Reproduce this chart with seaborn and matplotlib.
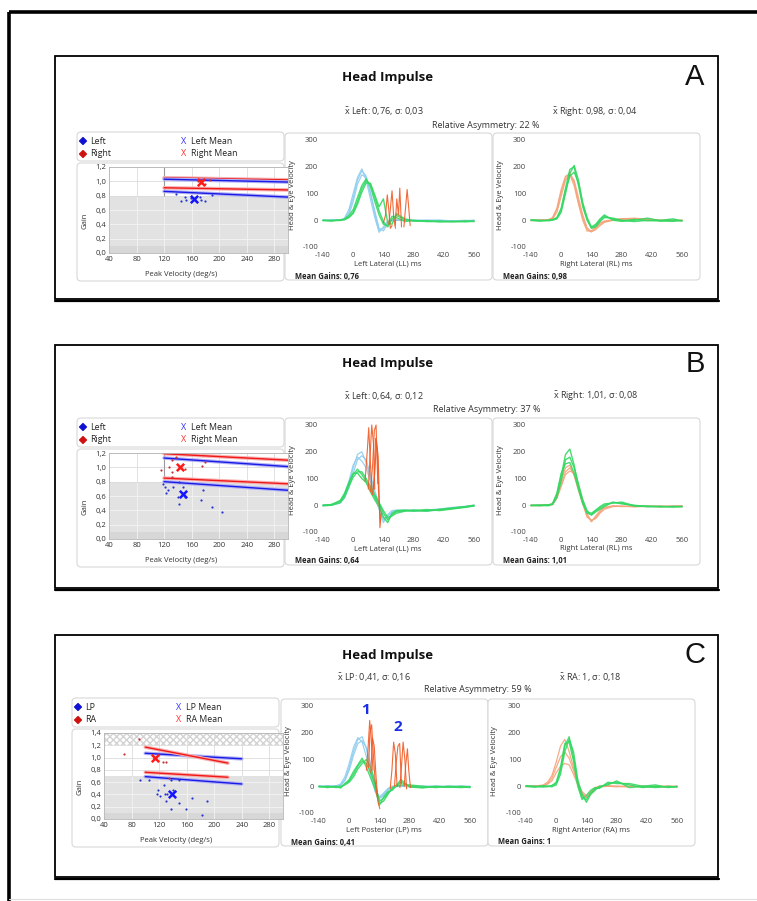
import numpy as np
import pandas as pd
import seaborn as sns
import matplotlib.pyplot as plt
import matplotlib.patheffects as pe
from matplotlib.patches import Rectangle, FancyBboxPatch

W, H = 757, 901

# ---------------- data ----------------
# common time grid (ms) of the impulse traces
T = [-140, -100, -60, -40, -20, 0, 20, 40, 60, 80, 100, 120, 140, 160, 180, 200, 240, 280, 340, 400, 460, 520, 560]

# panel A, left lateral
a_left_head = [
    [0, 0, 2, 5, 30, 85, 150, 185, 165, 100, 25, -38, -30, -8, 0, 0, 0, 0, -2, 0, -3, -2, 0],
    [0, 1, 0, 3, 20, 70, 135, 170, 160, 105, 35, -30, -40, -12, -2, 0, 1, 0, 0, -2, -3, 0, -2],
    [0, 0, 1, 8, 40, 100, 160, 192, 150, 80, 10, -45, -25, -3, 0, 1, 0, -2, 0, 0, -2, -3, 0],
]
a_left_eye = [
    [0, -2, 0, 3, 12, 30, 70, 118, 148, 135, 85, 35, -5, -25, 5, 18, 2, -3, -2, -5, -4, -6, -3],
    [-2, 0, -1, 5, 18, 40, 85, 130, 155, 125, 70, 20, -15, -20, 15, 10, -5, 0, -5, -3, -6, -4, -5],
    [0, -3, 2, 2, 10, 25, 60, 105, 140, 138, 95, 50, 80, -10, -15, 25, 5, -2, -4, -6, -5, -3, -4],
]
a_left_sacc = [
    ([140, 150, 158, 165, 172, 180], [-10, 20, 95, 40, -30, -20]),
    ([165, 172, 180, 188, 196], [-15, 40, 110, 10, -30]),
    ([195, 202, 210, 216, 224], [-20, 80, 20, 120, -25]),
    ([235, 242, 250, 256, 264], [-25, 40, 115, 60, -20]),
]
# panel A, right lateral
a_right_head = [
    [0, 0, 2, 8, 40, 105, 160, 178, 140, 70, 10, -35, -44, -30, -15, -5, 0, 5, 8, 3, 0, -2, 0],
    [0, 1, 0, 5, 30, 90, 150, 172, 150, 85, 20, -28, -42, -35, -20, -8, 0, 3, 6, 5, 0, 0, -2],
    [-2, 0, 1, 10, 45, 115, 165, 170, 130, 60, 0, -40, -40, -25, -10, -3, 2, 6, 4, 2, -2, 0, 0],
]
a_right_eye = [
    [0, -3, 0, 2, 10, 45, 120, 190, 200, 130, 50, 0, -28, -20, 0, 15, 5, -2, 3, -2, 0, 5, -3],
    [2, 0, -2, 0, 5, 30, 100, 175, 205, 150, 60, 5, -30, -25, -5, 10, 8, 0, -5, 0, -3, 0, -2],
    [0, -2, 0, 3, 8, 40, 110, 165, 180, 140, 65, 10, -25, -15, 5, 20, 0, -4, 0, 8, -2, -4, 0],
]

# panel B, left lateral
b_left_head = [
    [0, 2, 10, 35, 80, 140, 190, 200, 160, 100, 40, -5, -55, -40, -25, -20, -18, -20, -20, -15, -10, -5, 0],
    [-2, 0, 8, 28, 65, 120, 170, 185, 170, 115, 55, 5, -45, -50, -30, -22, -20, -18, -22, -18, -12, -6, -2],
    [0, 3, 12, 40, 90, 150, 180, 165, 140, 90, 30, -15, -65, -35, -20, -18, -20, -22, -18, -14, -8, -4, 0],
]
b_left_eye = [
    [0, 2, 15, 40, 80, 115, 135, 115, 90, 60, 30, 5, -30, -55, -35, -25, -20, -22, -20, -18, -12, -6, -2],
    [-2, 0, 10, 30, 70, 105, 125, 125, 100, 70, 40, 10, -20, -45, -40, -30, -22, -18, -22, -15, -10, -5, 0],
    [0, 3, 18, 45, 85, 120, 120, 100, 85, 50, 20, -5, -45, -65, -30, -20, -18, -20, -16, -20, -14, -8, -3],
]
b_left_sacc = [
    ([55, 65, 72, 80, 88], [90, 200, 290, 150, 40]),
    ([70, 78, 86, 94, 100], [60, 180, 300, 230, 60]),
    ([80, 90, 98, 106, 114], [50, 150, 280, 300, 80]),
    ([90, 100, 108, 116, 124, 130], [40, 120, 240, 180, -84, -30]),
    ([95, 104, 112, 118, 126], [60, 250, 200, 40, -60]),
]
# panel B, right lateral
b_right_head = [
    [0, -2, 0, 3, 30, 80, 125, 140, 115, 65, 10, -40, -60, -45, -25, -10, -3, -5, -3, -5, -4, -5, -3],
    [-2, 0, 2, 6, 40, 95, 140, 150, 110, 55, 5, -45, -55, -50, -30, -15, -5, -3, -5, -3, -6, -2, -4],
    [0, 0, 1, 2, 25, 70, 115, 128, 120, 75, 20, -30, -62, -40, -20, -8, -2, -4, -6, -4, -3, -5, -2],
]
b_right_eye = [
    [0, -2, 0, 5, 40, 110, 190, 210, 150, 70, 10, -30, -35, -20, -10, 0, 10, 8, -3, -5, -4, -6, -5],
    [-2, 0, 2, 3, 30, 90, 170, 180, 140, 80, 20, -20, -37, -25, -15, -5, 12, 5, 0, -5, -6, -4, -6],
    [0, 1, -2, 6, 45, 120, 155, 160, 120, 60, 5, -25, -30, -18, -5, 5, 8, 12, -2, -3, -5, -6, -4],
]

# panel C, left posterior
c_left_head = [
    [0, 0, 0, 5, 25, 70, 130, 175, 185, 140, 60, -10, -45, -30, -10, 0, 0, -2, 0, 0, -2, 0, 0],
    [-2, 0, 2, 8, 35, 85, 145, 182, 165, 110, 40, -20, -40, -25, -8, 0, 2, 0, -2, 0, 0, -2, -1],
    [0, 1, 0, 3, 20, 60, 115, 160, 170, 145, 80, 0, -46, -35, -15, -3, 0, 0, 0, -2, 0, 0, -2],
]
c_left_eye = [
    [0, -5, 0, -5, 10, 20, 45, 75, 95, 85, 50, 5, -55, -45, -25, -10, 15, 0, -5, 0, -3, -5, -2],
    [-3, 0, -5, 0, 5, 15, 35, 65, 85, 100, 70, 15, -65, -55, -30, -5, 5, 5, 0, -5, 0, -2, -5],
    [0, -3, -2, -6, 8, 25, 55, 80, 105, 70, 30, -10, -71, -40, -20, -15, 25, -3, -6, -2, -4, 0, -3],
]
c_left_sacc = [
    ([80, 88, 95, 102, 110], [60, 150, 246, 180, 60]),
    ([90, 96, 104, 112, 120, 130], [70, 200, 230, 120, 20, -40]),
    ([100, 108, 116, 124, 134, 142], [50, 180, 150, 40, -60, -84]),
    ([190, 198, 206, 214, 222], [-10, 60, 165, 120, 0]),
    ([210, 218, 226, 234, 242], [0, 90, 150, 160, 10]),
    ([235, 242, 250, 258, 266], [-5, 70, 165, 100, -10]),
    ([255, 262, 270, 276, 284], [0, 80, 140, 60, -5]),
]
# panel C, right anterior
c_right_head = [
    [0, 0, 2, 10, 30, 70, 110, 128, 105, 60, 10, -30, -40, -25, -8, 0, 0, -2, 0, -2, 0, 0, -2],
    [-2, 0, 5, 15, 40, 90, 150, 175, 130, 70, 15, -25, -43, -30, -12, -3, 0, 0, -3, 0, -2, 0, 0],
    [0, 2, 0, 8, 20, 50, 75, 85, 80, 45, 5, -20, -35, -20, -5, 0, 2, 0, 0, 0, -3, -2, 0],
]
c_right_eye = [
    [0, -3, 0, -2, 3, 10, 60, 150, 185, 110, 10, -40, -50, -25, -10, -5, 10, 15, 5, -5, 0, -3, -2],
    [2, 0, -3, 0, -2, 5, 45, 130, 175, 130, 25, -30, -60, -30, -15, 0, 5, 20, -5, 0, 5, -5, 0],
    [0, -2, 2, 0, 2, 15, 70, 160, 165, 95, 0, -50, -35, -15, -5, -8, 15, 10, 10, 0, -5, 0, -3],
]

# gain vs peak velocity: (velocity, gain)
a_gain_left = ([138, 145, 151, 152, 159, 172, 174, 179, 190], [0.82, 0.72, 0.78, 0.74, 0.77, 0.78, 0.74, 0.73, 0.81])
a_gain_right = ([169, 179, 187], [1.01, 0.96, 1.02])
a_mean_left, a_mean_right = (163, 0.76), (174, 0.99)
a_lines = [([120, 300], [1.05, 1.02], 'red'), ([120, 300], [1.03, 0.99], 'blue'),
           ([120, 300], [0.91, 0.88], 'red'), ([120, 300], [0.86, 0.78], 'blue')]

b_gain_left = ([118, 122, 123, 126, 133, 140, 141, 142, 147, 151, 174, 177, 190, 204],
               [0.77, 0.73, 0.64, 0.68, 0.72, 0.59, 0.49, 0.79, 0.72, 0.59, 0.55, 0.69, 0.45, 0.38])
b_gain_right = ([116, 132, 132, 138, 127, 131, 150, 175, 180],
                [0.96, 1.10, 0.94, 1.14, 1.00, 0.86, 0.97, 1.02, 1.08])
b_mean_left, b_mean_right = (147, 0.63), (143, 1.01)
b_lines = [([120, 300], [1.19, 1.10], 'red'), ([120, 300], [1.13, 1.01], 'blue'),
           ([120, 300], [0.85, 0.77], 'red'), ([120, 300], [0.80, 0.68], 'blue')]

c_gain_left = ([92, 106, 117, 118, 122, 127, 128, 130, 132, 138, 138, 140, 143, 149, 149, 159, 168, 182, 189],
               [0.63, 0.63, 0.41, 0.47, 0.37, 0.56, 0.40, 0.30, 0.41, 0.64, 0.16, 0.47, 0.46, 0.26, 0.64, 0.16, 0.35, 0.07, 0.30])
c_gain_right = ([69, 91, 125, 130, 134, 112], [1.06, 1.31, 0.93, 0.92, 0.66, 1.00])
c_mean_left, c_mean_right = (139, 0.40), (114, 0.99)
c_lines = [([100, 240], [1.07, 0.98], 'blue'), ([100, 220], [1.17, 0.91], 'red'),
           ([100, 220], [0.76, 0.68], 'red'), ([100, 240], [0.69, 0.57], 'blue')]

# ---------------- style ----------------
sns.set_style('white')
plt.rcParams['font.family'] = ['Open Sans', 'DejaVu Sans']
plt.rcParams['mathtext.fontset'] = 'custom'
plt.rcParams['mathtext.rm'] = 'Open Sans'
plt.rcParams['axes.unicode_minus'] = False

HEAD_BLUE = '#8fcdef'
EYE_GREEN = '#33d862'
SACC_ORANGE = '#f05a24'
HEAD_ORANGE = '#f6a27a'
LINE_COL = {'red': ('#f01818', '#f7b0b0'), 'blue': ('#1a1ae6', '#b0b0f5')}

fig = plt.figure(figsize=(W / 100, H / 100), dpi=100)
bg = fig.add_axes([0, 0, 1, 1])
bg.set_xlim(0, W)
bg.set_ylim(H, 0)
bg.axis('off')


def px_axes(x0, y0, x1, y1):
    return fig.add_axes([x0 / W, 1 - y1 / H, (x1 - x0) / W, (y1 - y0) / H])


def comma(v):
    return f'{v:.1f}'.replace('.', ',')


def soft_box(x0, y0, w, h):
    bg.add_patch(FancyBboxPatch((x0, y0), w, h, boxstyle='round,pad=0,rounding_size=4',
                                fc='white', ec='#d8d8d8', lw=0.8))


def long_df(traces, t=T):
    rows = []
    for i, v in enumerate(traces):
        rows.append(pd.DataFrame({'t': t, 'v': v, 'unit': i}))
    return pd.concat(rows, ignore_index=True)


def sacc_df(segs):
    rows = []
    for i, (t, v) in enumerate(segs):
        rows.append(pd.DataFrame({'t': t, 'v': v, 'unit': i}))
    return pd.concat(rows, ignore_index=True)


def wave_chart(x0, y0, layers, xlabel, gain_txt):
    soft_box(x0, y0, 207, 147)
    ax = px_axes(x0 + 35.84, y0 + 5.66, x0 + 191.16, y0 + 116.14)
    ax.patch.set_alpha(0)
    for df, col, lw in layers:
        sns.lineplot(data=df, x='t', y='v', units='unit', estimator=None, color=col,
                     lw=lw, alpha=0.9, ax=ax, legend=False)
    ax.set_xlim(-150, 570)
    ax.set_ylim(-108, 305)
    ax.set_xticks([-140, 0, 140, 280, 420, 560])
    ax.set_yticks([-100, 0, 100, 200, 300])
    ax.tick_params(labelsize=5.5, length=0, pad=2, colors='#444444')
    ax.set_xlabel('')
    ax.set_ylabel('')
    sns.despine(ax=ax, left=True, bottom=True)
    bg.text(x0 + 7, y0 + 62, 'Head & Eye Velocity', rotation=90, ha='center', va='center',
            fontsize=5.5, color='#333333')
    bg.text(x0 + 103, y0 + 131, xlabel, ha='center', va='center', fontsize=5.5, color='#333333')
    bg.text(x0 + 10, y0 + 143, gain_txt, ha='left', va='center', fontsize=5.5,
            fontweight='bold', color='#222222')


def gain_chart(x0, y0, ymax, thr, pts_l, pts_r, mean_l, mean_r, lines, mark120):
    soft_box(x0, y0, 207, 118)
    ax = px_axes(x0 + 32, y0 + 4, x0 + 211, y0 + 90)
    ax.set_facecolor('white')
    ax.axhspan(0, thr, color='#e2e2e2', lw=0, zorder=0)
    ax.axhspan(0, 0.1, color='#d7d7d7', lw=0, zorder=0)
    if ymax > 1.2:
        ax.axhspan(1.2, ymax, facecolor='white', edgecolor='#d2d2d2', hatch='xxxxx', lw=0, zorder=0)
    xt = [40, 80, 120, 160, 200, 240, 280]
    yt = [round(0.2 * i, 1) for i in range(int(round(ymax / 0.2)) + 1)]
    ax.vlines(xt, 0, thr, color='#f3f3f3', lw=0.6, zorder=0.5)
    ax.vlines(xt, thr, ymax, color='#dcdcdc', lw=0.6, zorder=0.5)
    for y in yt:
        ax.axhline(y, color='#f3f3f3' if y < thr else '#dcdcdc', lw=0.6, zorder=0.5)
    if mark120:
        ax.vlines([120], thr, ymax, color='#9a9a9a', lw=0.8, zorder=0.6)
    for xs, ys, c in lines:
        main, halo = LINE_COL[c]
        sns.lineplot(x=xs, y=ys, color=main, lw=1.0, ax=ax,
                     path_effects=[pe.Stroke(linewidth=2.6, foreground=halo), pe.Normal()])
    sns.scatterplot(x=pts_l[0], y=pts_l[1], color='#2535d0', s=2.5, linewidth=0, ax=ax, zorder=3)
    sns.scatterplot(x=pts_r[0], y=pts_r[1], color='#c83030', s=2.5, linewidth=0, ax=ax, zorder=3)
    sns.scatterplot(x=[mean_l[0]], y=[mean_l[1]], marker='x', color='#1515ff', s=28, linewidth=1.8, ax=ax, zorder=4)
    sns.scatterplot(x=[mean_r[0]], y=[mean_r[1]], marker='x', color='#ff1a1a', s=28, linewidth=1.8, ax=ax, zorder=4)
    ax.set_xlim(40, 300)
    ax.set_ylim(0, ymax)
    ax.set_xticks(xt)
    ax.set_xticklabels([str(v) for v in xt])
    ax.set_yticks(yt)
    ax.set_yticklabels([comma(v) for v in yt])
    ax.tick_params(labelsize=5.5, length=0, pad=2, colors='#333333')
    for s in ax.spines.values():
        s.set_color('#b5b5b5')
        s.set_linewidth(0.6)
    bg.text(x0 + 8, y0 + 58, 'Gain', rotation=90, ha='center', va='center', fontsize=5.5, color='#333333')
    bg.text(x0 + 104, y0 + 112, 'Peak Velocity (deg/s)', ha='center', va='center', fontsize=5.5,
            color='#333333')


def legend_box(x0, y0, names):
    soft_box(x0, y0, 207, 29)
    bg.scatter([x0 + 6, x0 + 6], [y0 + 9, y0 + 22], marker='D', s=12, c=['#1010d0', '#d01010'], zorder=3)
    bg.text(x0 + 13, y0 + 9, names[0], va='center', fontsize=6.3, color='#222222')
    bg.text(x0 + 13, y0 + 22, names[1], va='center', fontsize=6.3, color='#222222')
    bg.text(x0 + 107, y0 + 9, 'X', va='center', ha='center', fontsize=6.5, color='#3030ff')
    bg.text(x0 + 107, y0 + 22, 'X', va='center', ha='center', fontsize=6.5, color='#ff3030')
    bg.text(x0 + 114, y0 + 9, names[2], va='center', fontsize=6.3, color='#222222')
    bg.text(x0 + 114, y0 + 22, names[3], va='center', fontsize=6.3, color='#222222')


panels = [
    dict(letter='A', top=56, bottom=299, title_y=77, stats_y=111, asym_y=125,
         lstat_x=384, rstat_x=595, asym_x=486, leg=(77, 132), gbox=(77, 163), wl=(285, 133), wr=(493, 133),
         lstat=r'$\bar{\mathrm{x}}$ Left: 0,76, σ: 0,03', rstat=r'$\bar{\mathrm{x}}$ Right: 0,98, σ: 0,04',
         asym='Relative Asymmetry: 22 %', names=['Left', 'Right', 'Left Mean', 'Right Mean'],
         ymax=1.2, thr=0.8, mark120=True, gl=a_gain_left, gr=a_gain_right, ml=a_mean_left, mr=a_mean_right,
         lines=a_lines,
         left_layers=[(long_df(a_left_head), HEAD_BLUE, 0.9), (long_df(a_left_eye), EYE_GREEN, 1.0),
                      (sacc_df(a_left_sacc), SACC_ORANGE, 0.8)],
         right_layers=[(long_df(a_right_head), HEAD_ORANGE, 0.9), (long_df(a_right_eye), EYE_GREEN, 1.0)],
         lxl='Left Lateral (LL) ms', rxl='Right Lateral (RL) ms',
         lmg='Mean Gains: 0,76', rmg='Mean Gains: 0,98'),
    dict(letter='B', top=345, bottom=588, title_y=364, stats_y=396, asym_y=410,
         lstat_x=384, rstat_x=596, asym_x=487, leg=(77, 418), gbox=(77, 449), wl=(285, 418), wr=(493, 418),
         lstat=r'$\bar{\mathrm{x}}$ Left: 0,64, σ: 0,12', rstat=r'$\bar{\mathrm{x}}$ Right: 1,01, σ: 0,08',
         asym='Relative Asymmetry: 37 %', names=['Left', 'Right', 'Left Mean', 'Right Mean'],
         ymax=1.2, thr=0.8, mark120=True, gl=b_gain_left, gr=b_gain_right, ml=b_mean_left, mr=b_mean_right,
         lines=b_lines,
         left_layers=[(long_df(b_left_head), HEAD_BLUE, 0.9), (long_df(b_left_eye), EYE_GREEN, 1.0),
                      (sacc_df(b_left_sacc), SACC_ORANGE, 0.8)],
         right_layers=[(long_df(b_right_head), HEAD_ORANGE, 0.9), (long_df(b_right_eye), EYE_GREEN, 1.0)],
         lxl='Left Lateral (LL) ms', rxl='Right Lateral (RL) ms',
         lmg='Mean Gains: 0,64', rmg='Mean Gains: 1,01'),
    dict(letter='C', top=635, bottom=877, title_y=655, stats_y=677, asym_y=690,
         lstat_x=374, rstat_x=590, asym_x=478, leg=(72, 698), gbox=(72, 729), wl=(281, 699), wr=(488, 699),
         lstat=r'$\bar{\mathrm{x}}$ LP: 0,41, σ: 0,16', rstat=r'$\bar{\mathrm{x}}$ RA: 1, σ: 0,18',
         asym='Relative Asymmetry: 59 %', names=['LP', 'RA', 'LP Mean', 'RA Mean'],
         ymax=1.4, thr=0.7, mark120=False, gl=c_gain_left, gr=c_gain_right, ml=c_mean_left, mr=c_mean_right,
         lines=c_lines,
         left_layers=[(long_df(c_left_head), HEAD_BLUE, 0.9), (long_df(c_left_eye), EYE_GREEN, 1.0),
                      (sacc_df(c_left_sacc), SACC_ORANGE, 0.8)],
         right_layers=[(long_df(c_right_head), HEAD_ORANGE, 0.9), (long_df(c_right_eye), EYE_GREEN, 1.0)],
         lxl='Left Posterior (LP) ms', rxl='Right Anterior (RA) ms',
         lmg='Mean Gains: 0,41', rmg='Mean Gains: 1'),
]

# outer frame
bg.plot([9, 9], [12, H], color='black', lw=2.6, solid_capstyle='butt')
bg.plot([9, W], [12, 12], color='black', lw=2.6, solid_capstyle='butt')
bg.plot([9, W], [H - 2, H - 2], color='#dddddd', lw=0.8)

for p in panels:
    bg.add_patch(Rectangle((55, p['top']), 663, p['bottom'] - p['top'], fill=False, ec='black', lw=1.3))
    bg.plot([55, 719], [p['bottom'] + 1.5, p['bottom'] + 1.5], color='black', lw=1.6)
    bg.text(388, p['title_y'], 'Head Impulse', ha='center', va='center', fontsize=9.5, fontweight='bold',
            color='#111111')
    bg.text(695, p['title_y'], p['letter'], ha='center', va='center', fontsize=21,
            family='Liberation Sans', color='#111111')
    bg.text(p['lstat_x'], p['stats_y'], p['lstat'], ha='center', va='center', fontsize=6.5, color='#333333')
    bg.text(p['rstat_x'], p['stats_y'], p['rstat'], ha='center', va='center', fontsize=6.5, color='#333333')
    bg.text(p['asym_x'], p['asym_y'], p['asym'], ha='center', va='center', fontsize=6.5, color='#333333')
    legend_box(*p['leg'], p['names'])
    gain_chart(*p['gbox'], p['ymax'], p['thr'], p['gl'], p['gr'], p['ml'], p['mr'], p['lines'], p['mark120'])
    wave_chart(*p['wl'], p['left_layers'], p['lxl'], p['lmg'])
    wave_chart(*p['wr'], p['right_layers'], p['rxl'], p['rmg'])

# saccade markers in panel C
bg.text(365, 710, '1', ha='center', va='center', fontsize=11, fontweight='bold', color='#1a2ee8')
bg.text(398, 727, '2', ha='center', va='center', fontsize=11, fontweight='bold', color='#1a2ee8')

fig.savefig('out.png', dpi=100)
